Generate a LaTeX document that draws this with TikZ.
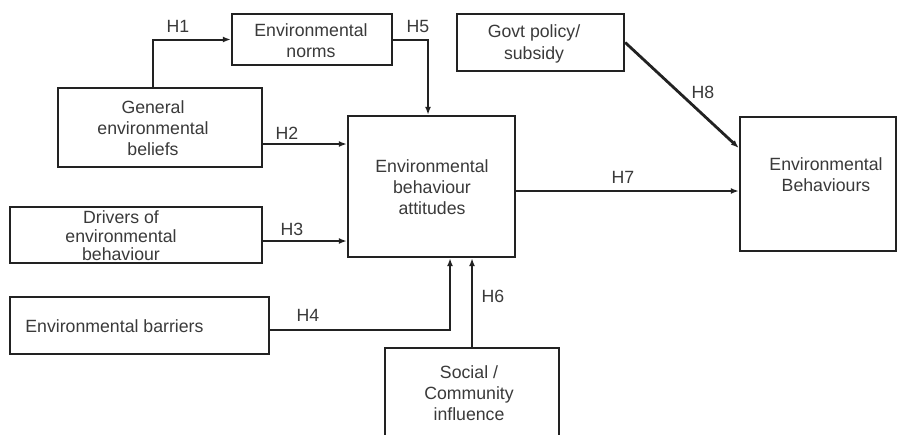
\documentclass[tikz,border=0pt]{standalone}
\usepackage{fontspec}
\setmainfont{Liberation Sans}
\usetikzlibrary{arrows.meta,calc}
\definecolor{ink}{HTML}{222222}
\definecolor{txt}{HTML}{3A3A3A}
\begin{document}
\begin{tikzpicture}[x=0.5pt,y=-0.5pt,
  box/.style={draw=ink,line width=1.2pt,inner sep=0pt,fill=white},
  lbl/.style={text=txt,font=\fontsize{8.85}{10.6}\selectfont,align=center,inner sep=0pt},
  hyp/.style={text=txt,font=\fontsize{8.85}{10.6}\selectfont,inner sep=0pt},
  conn/.style={draw=ink,line width=1pt,-{Latex[length=4pt,width=3pt]}},
  thick conn/.style={conn,line width=1.4pt}]
\useasboundingbox (0,0) rectangle (897,434);
\clip (0,0) rectangle (897,434);
\fill[white] (0,0) rectangle (897,434);
% boxes
\node[box,minimum width=80pt,minimum height=25.5pt] (norms) at (312,39.5) {};
\node[lbl] (normst) at (311,41) {Environmental\\norms};
\node[box,minimum width=102pt,minimum height=39.5pt] (beliefs) at (160,127.5) {};
\node[lbl] (beliefst) at (153,128) {General\\environmental\\beliefs};
\node[box,minimum width=83.5pt,minimum height=70.5pt] (central) at (431.5,186.5) {};
\node[lbl] (centralt) at (432,187) {Environmental\\behaviour\\attitudes};
\node[box,minimum width=126pt,minimum height=28pt] (drivers) at (136,235) {};
\node[lbl,font=\fontsize{8.85}{9.2}\selectfont] (driverst) at (121,236) {Drivers of\\environmental\\behaviour};
\node[box,minimum width=129.5pt,minimum height=28.5pt] (barriers) at (139.5,325.5) {};
\node[lbl,anchor=west] (barrierst) at (25,326) {Environmental barriers};
\node[box,minimum width=87pt,minimum height=51pt] (social) at (472,399) {};
\node[lbl] (socialt) at (469,393) {Social /\\Community\\influence};
\node[box,minimum width=83.5pt,minimum height=28.5pt] (govt) at (540.5,42.5) {};
\node[lbl] (govtt) at (534,44) {Govt policy/\\subsidy};
\node[box,minimum width=78pt,minimum height=67pt] (eb) at (818,184) {};
\node[lbl] (ebt) at (826,175) {Environmental\\Behaviours};
% helper coordinates
\coordinate (h1) at (153,37);
\coordinate (h5) at (428,37);
\coordinate (h2) at (0,144);
\coordinate (h3) at (0,241);
\coordinate (h4) at (450,330);
\coordinate (h7) at (0,191);
\coordinate (h8) at (0,148);
% connectors
\draw[conn] (beliefs.north -| h1) |- (norms.west);
\draw[conn] (norms.east) -| (central.north -| h5);
\draw[conn] (beliefs.east |- h2) -- (central.west |- h2);
\draw[conn] (drivers.east |- h3) -- (central.west |- h3);
\draw[conn] (barriers.east |- h4) -| (central.south -| h4);
\draw[thick conn] (social.north) -- (central.south -| social.north);
\draw[conn] (central.east |- h7) -- (eb.west |- h7);
\draw[thick conn] (govt.east) -- (eb.west |- h8);
% hypothesis labels
\node[hyp] (H1) at (178,26) {H1};
\node[hyp] (H5) at (418,26) {H5};
\node[hyp] (H2) at (287,133) {H2};
\node[hyp] (H3) at (292,229) {H3};
\node[hyp] (H4) at (308,315) {H4};
\node[hyp] (H6) at (493,296) {H6};
\node[hyp] (H7) at (623,177) {H7};
\node[hyp] (H8) at (703,92) {H8};
\end{tikzpicture}
\end{document}
